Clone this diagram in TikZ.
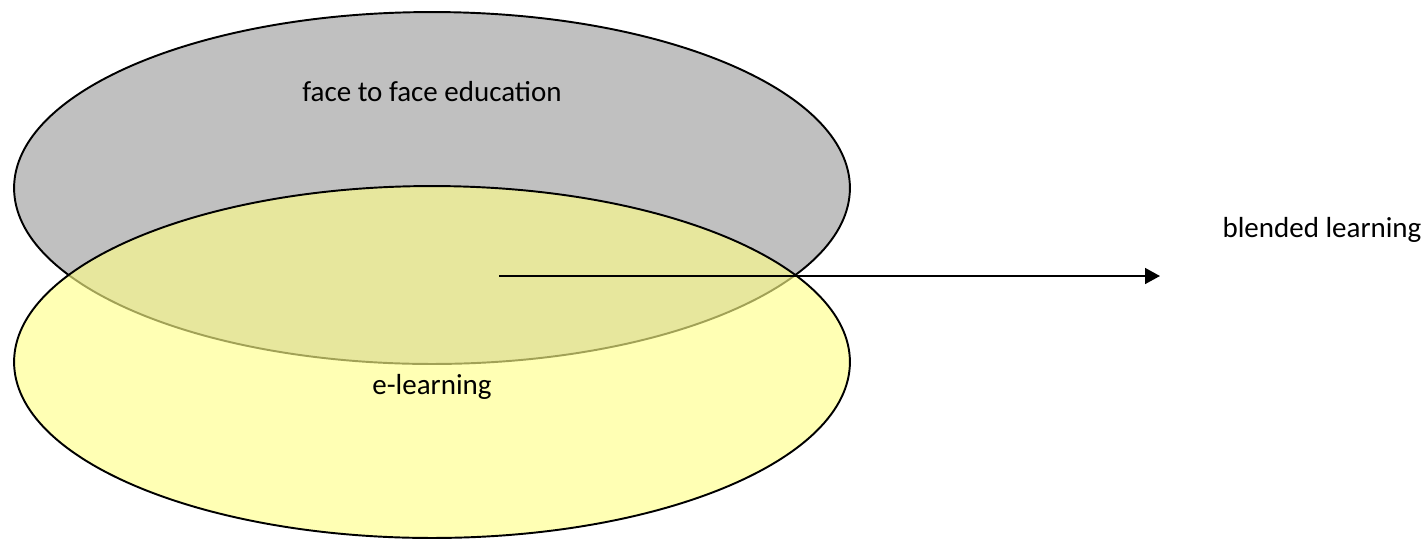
\documentclass[tikz,border=0pt]{standalone}
\usepackage{fontspec}
\setmainfont{Carlito}
\usetikzlibrary{shapes.geometric,arrows.meta}
\definecolor{facegray}{RGB}{192,192,192}
\definecolor{elyellow}{RGB}{255,255,137}
\newcommand{\blob}[3]{%
 \node ({#1}) [blob,#3] at ({#2}) {};%
}
\begin{document}
\begin{tikzpicture}[x=0.02cm,y=-0.02cm,
  every node/.style={font=\fontsize{16.5}{20}\selectfont},
  blob/.style={ellipse,draw=black,line width=1.1pt,minimum width=16.72cm,minimum height=7.04cm,inner sep=0pt}]
   \useasboundingbox (0,0) rectangle (1428,539);
   \blob{f2f}{432,188}{fill=facegray};
   \blob{elearn}{432,362}{fill=elyellow,fill opacity=0.63};
   \node (f2ftxt) at (432,92) {face to face education};
   \node (eltxt) at (432,387) {e-learning};
   \node (bltxt) at (1322,230) {blended learning};
   \coordinate (from) at (499,276);
   \coordinate (to) at (1160,276);
   \draw[-{Triangle[length=8.5pt,width=9pt]},line width=1.1pt] (from) -- (to);
\end{tikzpicture}
\end{document}
